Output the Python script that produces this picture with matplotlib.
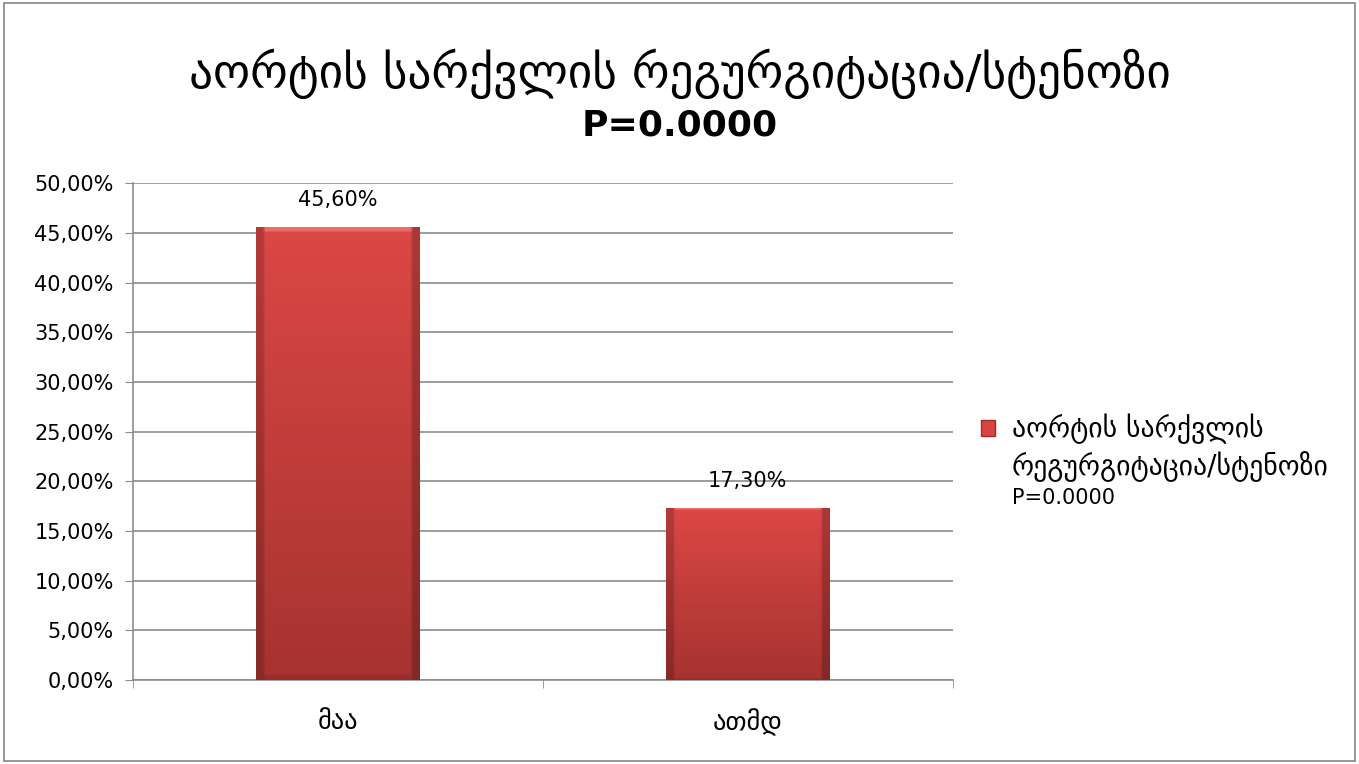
import numpy as np
import matplotlib.pyplot as plt
from matplotlib.patches import Rectangle
from matplotlib.ticker import FuncFormatter, FixedLocator

categories = ['მაა', 'ათმდ']
values = [45.60, 17.30]
legend_lines = ['აორტის სარქვლის', 'რეგურგიტაცია/სტენოზი', 'P=0.0000']
title_line1 = 'აორტის სარქვლის რეგურგიტაცია/სტენოზი'
title_line2 = 'P=0.0000'

plt.rcParams['font.family'] = ['DejaVu Sans']

fig = plt.figure(figsize=(13.59, 7.64), dpi=100)
fig.patches.append(Rectangle((0.003, 0.004), 0.994, 0.992, transform=fig.transFigure,
                             fill=False, edgecolor='#868686', linewidth=1.2))

ax = fig.add_axes([0.098, 0.110, 0.603, 0.650])
x = np.arange(len(categories))
width = 0.4
bars = ax.bar(x, values, width=width, color='#d64541', edgecolor='none', zorder=3)

# gradient fill with bevelled edges
top = np.array([0.86, 0.28, 0.27])
bot = np.array([0.65, 0.20, 0.19])
t = np.linspace(0, 1, 200)[:, None]
grad = top * (1 - t[..., None]) + bot * t[..., None]
grad = np.repeat(grad, 60, axis=1)
shade = np.ones((200, 60))
shade[:, :3] = 0.82
shade[:, -3:] = 0.78
grad = grad * shade[..., None]
grad[:2, 3:-3] = np.array([0.93, 0.42, 0.40])
grad[-2:, 3:-3] *= 0.9
for b in bars:
    b.set_visible(False)
    ax.imshow(np.clip(grad, 0, 1), extent=(b.get_x(), b.get_x() + b.get_width(), 0, b.get_height()),
              aspect='auto', zorder=3, interpolation='bilinear')

for b, v in zip(bars, values):
    ax.text(b.get_x() + b.get_width() / 2, v + 1.7, f'{v:.2f}%'.replace('.', ','),
            ha='center', va='bottom', fontsize=15)

ax.set_xlim(-0.5, 1.5)
ax.set_ylim(0, 50)
ax.yaxis.set_major_locator(FixedLocator([i * 5 for i in range(11)]))
ax.yaxis.set_major_formatter(FuncFormatter(lambda v, p: f'{v:.2f}%'.replace('.', ',')))
ax.grid(axis='y', color='#8c8c8c', linewidth=1.2, zorder=0)
ax.set_axisbelow(True)
ax.set_xticks(list(x))
ax.set_xticklabels(categories, fontsize=19)
ax.tick_params(axis='x', length=0, pad=21)
ax.set_xticks([-0.5, 0.5, 1.5], minor=True)
ax.tick_params(axis='x', which='minor', length=6, color='#8c8c8c')
ax.tick_params(axis='y', labelsize=15, length=6, color='#8c8c8c', pad=8)
for s in ['top', 'right']:
    ax.spines[s].set_visible(False)
for s in ['left', 'bottom']:
    ax.spines[s].set_color('#8c8c8c')
    ax.spines[s].set_linewidth(1.2)

fig.text(0.5, 0.903, title_line1, ha='center', va='center', fontsize=34)
fig.text(0.5, 0.836, title_line2, ha='center', va='center', fontsize=26, fontweight='bold')

handle = Rectangle((0, 0), 1, 1, facecolor='#d64541', edgecolor='#a52a28')
leg = ax.legend([handle], [legend_lines[0]], loc='center left', bbox_to_anchor=(1.035, 0.505),
                frameon=False, fontsize=20, handlelength=0.5, handleheight=0.5,
                handletextpad=0.6, borderaxespad=0, borderpad=0)
fig.canvas.draw()
inv = fig.transFigure.inverted()
x0 = inv.transform(leg.get_texts()[0].get_window_extent().p0)[0]
fig.text(x0, 1 - 467 / 764, legend_lines[1], ha='left', va='center', fontsize=20)
fig.text(x0, 1 - 498 / 764, legend_lines[2], ha='left', va='center', fontsize=15)

fig.savefig('out.png', dpi=100)
